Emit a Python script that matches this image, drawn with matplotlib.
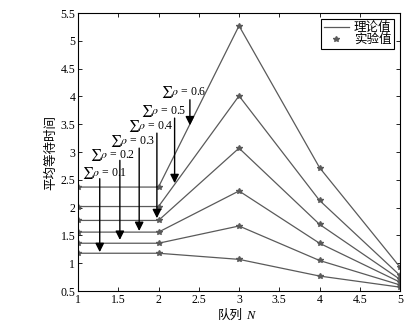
import matplotlib
matplotlib.use("Agg")
import matplotlib.pyplot as plt
import numpy as np

plt.rcParams['font.family'] = ['Liberation Serif', 'Noto Sans CJK SC']
plt.rcParams['mathtext.fontset'] = 'stix'
plt.rcParams['font.size'] = 8.5

# 队列数 N
N = [1, 2, 3, 4, 5]

# 平均等待时间 (每条曲线对应一个 sum rho)
rho_labels = ['0.1', '0.2', '0.3', '0.4', '0.5', '0.6']
w_01 = [1.18, 1.18, 1.07, 0.77, 0.57]
w_02 = [1.36, 1.36, 1.67, 1.05, 0.61]
w_03 = [1.56, 1.56, 2.30, 1.36, 0.66]
w_04 = [1.77, 1.77, 3.07, 1.70, 0.71]
w_05 = [2.02, 2.02, 4.01, 2.13, 0.78]
w_06 = [2.37, 2.37, 5.27, 2.72, 0.93]
series = [w_01, w_02, w_03, w_04, w_05, w_06]

# 箭头注释
arrow_x = [1.27, 1.52, 1.76, 1.98, 2.20, 2.39]
arrow_tip = [1.20, 1.42, 1.58, 1.81, 2.44, 3.48]
arrow_tail = [2.52, 2.85, 3.07, 3.34, 3.61, 3.94]
text_x = [1.05, 1.15, 1.40, 1.62, 1.78, 2.03]
text_y = [2.62, 2.95, 3.20, 3.47, 3.74, 4.08]

fig = plt.figure(figsize=(4.18, 3.30), dpi=100)
ax = fig.add_axes([0.1866, 0.118, 0.7704, 0.8426])

line_color = '#5a5a5a'
for i, w in enumerate(series):
    ax.plot(N, w, color=line_color, lw=0.9, label='理论值' if i == 0 else None)
    ax.plot(N, w, ls='none', marker='*', ms=4, color=line_color,
            label='实验值' if i == 0 else None)

for i in range(len(rho_labels)):
    ax.annotate('', xy=(arrow_x[i], arrow_tip[i]), xytext=(arrow_x[i], arrow_tail[i]),
                arrowprops=dict(arrowstyle='-|>', color='black', lw=1.0,
                                mutation_scale=13, shrinkA=0, shrinkB=0))
    ax.text(text_x[i], text_y[i], r'$\sum\rho$ = ' + rho_labels[i],
            ha='left', va='center', fontsize=8.5)

ax.set_xlim(1, 5)
ax.set_ylim(0.5, 5.5)
ax.set_xticks(np.arange(1, 5.01, 0.5))
ax.set_yticks(np.arange(0.5, 5.51, 0.5))
ax.set_xticklabels(['1', '1.5', '2', '2.5', '3', '3.5', '4', '4.5', '5'])
ax.set_yticklabels(['0.5', '1', '1.5', '2', '2.5', '3', '3.5', '4', '4.5', '5', '5.5'])
ax.tick_params(direction='in', top=True, right=True, length=3, width=0.6, pad=2)
for s in ax.spines.values():
    s.set_linewidth(0.8)

# x 轴标题: 中文 + 斜体 N
ax.text(0.512, -0.088, '队列', transform=ax.transAxes, ha='right', va='center',
        fontsize=9)
ax.text(0.522, -0.088, 'N', transform=ax.transAxes, ha='left', va='center',
        fontsize=9, style='italic')
ax.set_ylabel('平均等待时间', labelpad=2, fontsize=9)

leg = ax.legend(loc='upper right', fancybox=False, edgecolor='black',
                framealpha=1, borderpad=0.2, labelspacing=0.0,
                handlelength=2.0, handletextpad=0.4, borderaxespad=0.5,
                fontsize=9)
leg.get_frame().set_linewidth(0.8)

fig.savefig('out.png', dpi=100)
